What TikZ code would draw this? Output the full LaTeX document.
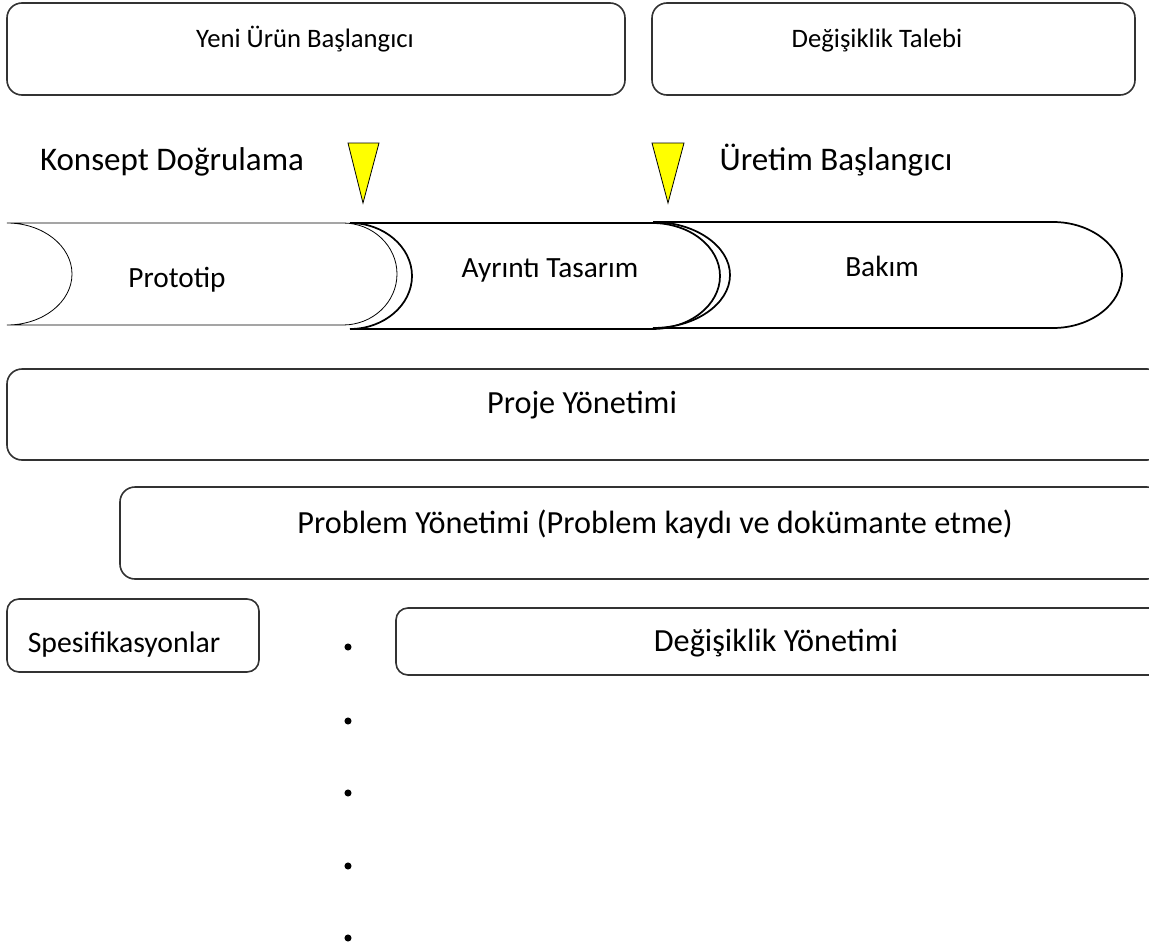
\documentclass[tikz,border=0pt]{standalone}
\usepackage{fontspec}
\setmainfont{Carlito}
\usepackage{tikz}

\begin{document}
\begin{tikzpicture}[x=0.75pt,y=0.75pt,yscale=-1,xscale=1,
  boxline/.style={color={rgb, 255:red, 50; green, 50; blue, 50 }, draw opacity=1, line width=1.2, fill=white},
  phasethin/.style={color={rgb, 255:red, 0; green, 0; blue, 0 }, line width=0.6, fill=white},
  phasethick/.style={color={rgb, 255:red, 0; green, 0; blue, 0 }, line width=1.3, fill=white},
  marker/.style={draw={rgb, 255:red, 0; green, 0; blue, 0 }, line width=0.6, fill={rgb, 255:red, 255; green, 255; blue, 0 }, fill opacity=1},
  txt/.style={anchor=base, inner sep=0.75pt},
  dotmark/.style={circle, fill=black, inner sep=0pt, minimum size=5.3pt}]
\useasboundingbox (0,0) rectangle (1149,949);

%Rounded Rect: Yeni Urun
\draw [boxline] (7,18) .. controls (7,9.72) and (13.72,3) .. (22,3) -- (610,3) .. controls (618.28,3) and (625,9.72) .. (625,18) -- (625,80) .. controls (625,88.28) and (618.28,95) .. (610,95) -- (22,95) .. controls (13.72,95) and (7,88.28) .. (7,80) -- cycle ;
%Rounded Rect: Degisiklik Talebi
\draw [boxline] (652,18) .. controls (652,9.72) and (658.72,3) .. (667,3) -- (1120,3) .. controls (1128.28,3) and (1135,9.72) .. (1135,18) -- (1135,80) .. controls (1135,88.28) and (1128.28,95) .. (1120,95) -- (667,95) .. controls (658.72,95) and (652,88.28) .. (652,80) -- cycle ;

%Shape: Triangle
\draw [marker] (348,143) -- (379,143) -- (363,203) -- cycle ;
%Shape: Triangle
\draw [marker] (652,143) -- (684,143) -- (668,203) -- cycle ;

%Shape: Prototip
\draw [phasethin] (7,223) -- (343,223) .. controls (373,223) and (397,246) .. (397,274) .. controls (397,302) and (373,325) .. (343,325) -- (7,325) .. controls (43,325) and (72,302) .. (72,274) .. controls (72,246) and (43,223) .. (7,223) -- cycle ;
%Shape: Ayrinti Tasarim
\draw [phasethick] (350,223) -- (652,223) .. controls (690,223) and (720,247) .. (720,276) .. controls (720,305) and (690,329) .. (652,329) -- (350,329) .. controls (384,329) and (412,305) .. (412,276) .. controls (412,247) and (384,223) .. (350,223) -- cycle ;
%Shape: Bakim
\draw [phasethick] (653,222) -- (1053,222) .. controls (1091,222) and (1122,246) .. (1122,275) .. controls (1122,304) and (1091,328) .. (1053,328) -- (653,328) .. controls (695,328) and (730,304) .. (730,275) .. controls (730,246) and (695,222) .. (653,222) -- cycle ;

%Rounded Rect: Proje Yonetimi
\draw [boxline] (7,384) .. controls (7,375.72) and (13.72,369) .. (22,369) -- (1147,369) .. controls (1155.28,369) and (1162,375.72) .. (1162,384) -- (1162,445) .. controls (1162,453.28) and (1155.28,460) .. (1147,460) -- (22,460) .. controls (13.72,460) and (7,453.28) .. (7,445) -- cycle ;
%Rounded Rect: Problem Yonetimi
\draw [boxline] (120,502) .. controls (120,493.72) and (126.72,487) .. (135,487) -- (1147,487) .. controls (1155.28,487) and (1162,493.72) .. (1162,502) -- (1162,564) .. controls (1162,572.28) and (1155.28,579) .. (1147,579) -- (135,579) .. controls (126.72,579) and (120,572.28) .. (120,564) -- cycle ;
%Rounded Rect: Spesifikasyonlar
\draw [boxline] (7,611) .. controls (7,604.37) and (12.37,599) .. (19,599) -- (247,599) .. controls (253.63,599) and (259,604.37) .. (259,611) -- (259,660) .. controls (259,666.63) and (253.63,672) .. (247,672) -- (19,672) .. controls (12.37,672) and (7,666.63) .. (7,660) -- cycle ;
%Rounded Rect: Degisiklik Yonetimi
\draw [boxline] (396,620) .. controls (396,613.37) and (401.37,608) .. (408,608) -- (1150,608) .. controls (1156.63,608) and (1162,613.37) .. (1162,620) -- (1162,663) .. controls (1162,669.63) and (1156.63,675) .. (1150,675) -- (408,675) .. controls (401.37,675) and (396,669.63) .. (396,663) -- cycle ;

% Texts
\draw (305,48) node (yeni) [txt] [font=\fontsize{20}{24}\selectfont] {Yeni Ürün Başlangıcı};
\draw (877,48) node (talep) [txt] [font=\fontsize{20}{24}\selectfont] {Değişiklik Talebi};
\draw (172,170) node (konsept) [txt] [font=\fontsize{24.75}{30}\selectfont] {Konsept Doğrulama};
\draw (836,170) node (uretim) [txt] [font=\fontsize{24.75}{30}\selectfont] {Üretim Başlangıcı};
\draw (177,287) node (prototip) [txt] [font=\fontsize{22}{26}\selectfont] {Prototip};
\draw (550,277) node (ayrinti) [txt] [font=\fontsize{22}{26}\selectfont] {Ayrıntı Tasarım};
\draw (882,276) node (bakim) [txt] [font=\fontsize{22}{26}\selectfont] {Bakım};
\draw (582,413) node (proje) [txt] [font=\fontsize{24.2}{29}\selectfont] {Proje Yönetimi};
\draw (655,533) node (problem) [txt] [font=\fontsize{24.2}{29}\selectfont] {Problem Yönetimi (Problem kaydı ve dokümante etme)};
\draw (124,652) node (spes) [txt] [font=\fontsize{22.3}{27}\selectfont] {Spesifikasyonlar};
\draw (776,651) node (degyon) [txt] [font=\fontsize{24.2}{29}\selectfont] {Değişiklik Yönetimi};

% Bullets
\foreach \yy [count=\i] in {647,721,793,866,938}
  \draw (348,\yy) node (dot\i) [dotmark] {};

\end{tikzpicture}
\end{document}
